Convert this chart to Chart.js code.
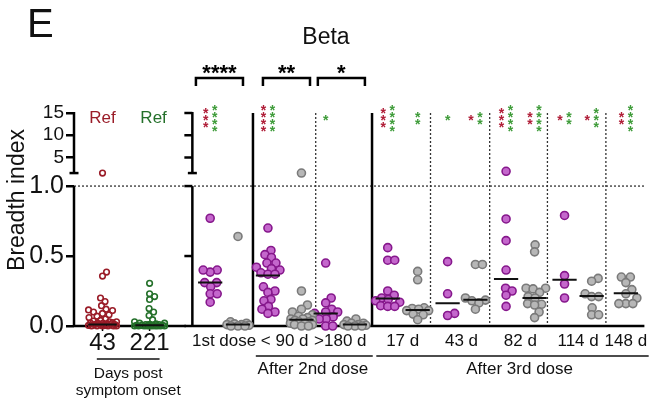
<!DOCTYPE html>
<html>
<head>
<meta charset="utf-8">
<script src="https://cdn.jsdelivr.net/npm/chart.js@4"></script>
<style>
  html, body { margin: 0; padding: 0; background: #fff; }
</style>
</head>
<body>
<canvas id="c" width="650" height="400"></canvas>
<script>
// ── Breadth index vs Beta – scatter panels ──
const FONT = "'Liberation Sans', Arial, sans-serif";

// data
const refDays = ['43', '221'];
const ref43 = [1.5, 0.385, 0.357, 0.2, 0.175, 0.145, 0.12, 0.115, 0.11, 0.1, 0.09, 0.08, 0.07, 0.06, 0.05, 0.04, 0.035, 0.03, 0.03, 0.025, 0.02, 0.02, 0.02, 0.015, 0.01, 0.01, 0.01, 0.01, 0.005, 0.005, 0, 0, 0, 0, 0, 0];
const ref221 = [0.305, 0.23, 0.21, 0.19, 0.125, 0.1, 0.075, 0.045, 0.03, 0.02, 0.02, 0.015, 0.01, 0.01, 0.01, 0.01, 0.005, 0.005, 0.005, 0.005, 0, 0, 0, 0, 0, 0, 0, 0, 0, 0];
const refMedians = [0.01, 0.005];

const vaxTimes = ['1st dose', '< 90 d', '>180 d', '17 d', '43 d', '82 d', '114 d', '148 d'];
const purpleVals = [
  [0.77, 0.40, 0.385, 0.40, 0.31, 0.31, 0.28, 0.23, 0.23, 0.17],
  [0.70, 0.54, 0.51, 0.49, 0.45, 0.45, 0.42, 0.41, 0.40, 0.38, 0.37, 0.37, 0.28, 0.25, 0.24, 0.19, 0.18, 0.14, 0.12, 0.10, 0.09],
  [0.45, 0.20, 0.165, 0.12, 0.10, 0.10, 0.09, 0.065, 0.05, 0.05, 0.0, 0.0],
  [0.56, 0.47, 0.47, 0.25, 0.22, 0.20, 0.19, 0.18, 0.17, 0.145, 0.14, 0.14],
  [0.46, 0.23, 0.09, 0.075],
  [1.9, 0.765, 0.61, 0.40, 0.27, 0.25, 0.22, 0.14],
  [0.79, 0.36, 0.30, 0.20],
  null
];
const grayVals = [
  [0.64, 0.03, 0.02, 0.015, 0.01, 0.01, 0.005, 0, 0, 0],
  [1.5, 0.25, 0.15, 0.12, 0.10, 0.08, 0.07, 0.06, 0.05, 0.05, 0.04, 0.04, 0.03, 0.03, 0.02, 0.02, 0.01, 0.01, 0, 0],
  [0.05, 0.035, 0.02, 0.02, 0.01, 0.01, 0.005, 0, 0, 0],
  [0.39, 0.33, 0.13, 0.125, 0.12, 0.11, 0.11, 0.085, 0.08, 0.045],
  [0.44, 0.44, 0.20, 0.185, 0.18, 0.165, 0.12],
  [0.58, 0.53, 0.27, 0.27, 0.265, 0.24, 0.21, 0.20, 0.16, 0.155, 0.15, 0.10, 0.06],
  [0.34, 0.32, 0.23, 0.21, 0.21, 0.13, 0.08, 0.08],
  [0.35, 0.35, 0.31, 0.26, 0.23, 0.20, 0.16, 0.16, 0.16]
];
const purpleMedians = [0.31, 0.36, 0.09, 0.196, 0.163, 0.335, 0.33, null];
const grayMedians = [0.01, 0.045, 0.01, 0.115, 0.187, 0.20, 0.215, 0.234];

// significance marks: [red stars, green stars]
const purpleStars = [[3, 4], [4, 4], [0, 1], [3, 4], [0, 1], [3, 4], [1, 2], null];
const grayStars = [[0, 0], [0, 0], [0, 0], [0, 2], [1, 2], [2, 4], [1, 3], [2, 4]];
const bracketStars = ['****', '**', '*'];
const yTickVals = [0, 0.5, 1, 5, 10, 15];

// layout (x in slot units, 0..40)
const refX = [2.0, 5.3];
const purpleX = [9.55, 13.6, 17.65, 22.0, 26.2, 30.3, 34.4, null];
const grayX = [11.5, 15.95, 19.7, 24.1, 28.15, 32.3, 36.3, 38.7];
const axis2X = 8.3, leftEnd = 7.85;
const solidSeps = [12.55, 20.9];
const dottedSeps = [16.95, 25.0, 29.15, 33.2, 37.3];
const brackets = [[8.55, 11.85], [13.25, 16.55], [17.1, 20.4]];

const RED = '#9a1c28', GREEN = '#24702a', STAR_RED = '#b01e38', STAR_GREEN = '#3f9c3a';

// broken y axis: 0..1 lower, 1..1.5 gap, 1.5..15 upper
const LOW_F = 0.657, GAP_F = 0.061;
class BrokenScale extends Chart.LinearScale {
  frac(v) {
    if (v <= 1) return v * LOW_F;
    if (v <= 1.5) return LOW_F + (v - 1) / 0.5 * GAP_F;
    return LOW_F + GAP_F + (v - 1.5) / 13.5 * (1 - LOW_F - GAP_F);
  }
  getPixelForValue(v) { return this.bottom - this.frac(v) * (this.bottom - this.top); }
  getValueForPixel(p) {
    const f = (this.bottom - p) / (this.bottom - this.top);
    if (f <= LOW_F) return f / LOW_F;
    if (f <= LOW_F + GAP_F) return 1 + (f - LOW_F) / GAP_F * 0.5;
    return 1.5 + (f - LOW_F - GAP_F) / (1 - LOW_F - GAP_F) * 13.5;
  }
}
BrokenScale.id = 'broken';
BrokenScale.defaults = Chart.LinearScale.defaults;
Chart.register(BrokenScale);

// datasets
const swarmGroups = [];
const datasets = [];
const medianData = [];
function addMedian(cx, m, half) {
  if (m == null) return;
  medianData.push({x: cx - half, y: m}, {x: cx + half, y: m}, {x: cx + half, y: null});
}
datasets.push({type: 'line', data: medianData, borderColor: '#111', borderWidth: 2, pointRadius: 0, spanGaps: false, order: 0, clip: false});

function addGroup(vals, cx, style, diam, maxHalf) {
  swarmGroups.push({ds: datasets.length, vals, cx, diam, maxHalf});
  datasets.push(Object.assign({data: vals.map(v => ({x: cx, y: v})), order: 1, clip: false}, style));
}
const refStyle = c => ({pointRadius: 2.8, borderWidth: 1.6, pointBorderColor: c, pointBackgroundColor: 'rgba(255,255,255,0)'});
const purpleStyle = {pointRadius: 4, borderWidth: 1.6, pointBorderColor: '#86188c', pointBackgroundColor: '#c467cc'};
const grayStyle = {pointRadius: 4, borderWidth: 1.6, pointBorderColor: '#7a7a7a', pointBackgroundColor: '#b7b7b7'};

addGroup(ref43, refX[0], refStyle(RED), 5.4, 14);
addGroup(ref221, refX[1], refStyle(GREEN), 5.4, 15);
addMedian(refX[0], refMedians[0], 1.0);
addMedian(refX[1], refMedians[1], 1.0);
vaxTimes.forEach((t, i) => {
  if (purpleVals[i]) { addGroup(purpleVals[i], purpleX[i], purpleStyle, 7, 12); addMedian(purpleX[i], purpleMedians[i], 0.85); }
  addGroup(grayVals[i], grayX[i], grayStyle, 7, 11);
  addMedian(grayX[i], grayMedians[i], 0.85);
});

// beeswarm offsets in pixels, kept within ±maxHalf (overlap allowed when crowded)
function swarm(pys, diam, maxHalf) {
  const order = pys.map((p, i) => i).sort((a, b) => pys[b] - pys[a]);
  const placed = [], offs = [];
  for (const i of order) {
    let best = null, fallback = 0, bestGap = -1;
    for (let k = 0; ; k++) {
      const o = (k % 2 ? 1 : -1) * Math.ceil(k / 2) * 0.5;
      if (Math.abs(o) > maxHalf) break;
      let md = Infinity;
      placed.forEach(p => { md = Math.min(md, Math.hypot(p.x - o, p.y - pys[i])); });
      if (md >= diam) { best = o; break; }
      if (md > bestGap + 0.01) { bestGap = md; fallback = o; }
    }
    if (best == null) best = fallback;
    placed.push({x: best, y: pys[i]});
    offs[i] = best;
  }
  return offs;
}

const decor = {
  id: 'decor',
  beforeDatasetsDraw(chart) {
    const {ctx, chartArea: a} = chart;
    const xs = chart.scales.x, ys = chart.scales.y;
    const X = v => xs.getPixelForValue(v), Y = v => ys.getPixelForValue(v);
    const line = (x1, y1, x2, y2) => { ctx.beginPath(); ctx.moveTo(x1, y1); ctx.lineTo(x2, y2); ctx.stroke(); };
    ctx.save();
    ctx.strokeStyle = '#333'; ctx.lineWidth = 1.3; ctx.setLineDash([2, 2]);
    line(a.left, Y(1), a.right, Y(1));
    dottedSeps.forEach(u => line(X(u), Y(15), X(u), Y(0)));
    ctx.setLineDash([]);
    ctx.strokeStyle = '#000'; ctx.lineWidth = 2.5;
    solidSeps.forEach(u => line(X(u), Y(15), X(u), Y(0)));
    [a.left, X(axis2X)].forEach((x0, k) => {
      line(x0, Y(15) - 1, x0, Y(1.5));
      line(x0 - 4.5, Y(1.5), x0 + 4.5, Y(1.5));
      line(x0, Y(1), x0, Y(0) + 1);
      if (k === 1) yTickVals.forEach(v => line(x0 - 8, Y(v), x0, Y(v)));
    });
    line(a.left, Y(0), X(leftEnd), Y(0));
    line(X(axis2X), Y(0), a.right, Y(0));
    ctx.lineWidth = 1.5;
    refX.forEach(u => line(X(u), Y(0), X(u), Y(0) + 5));
    ctx.restore();
  },
  afterDraw(chart) {
    const {ctx, chartArea: a} = chart;
    const xs = chart.scales.x, ys = chart.scales.y;
    const X = v => xs.getPixelForValue(v), Y = v => ys.getPixelForValue(v);
    const line = (x1, y1, x2, y2) => { ctx.beginPath(); ctx.moveTo(x1, y1); ctx.lineTo(x2, y2); ctx.stroke(); };
    const text = (s, x, y, size, color, weight) => {
      ctx.font = (weight || '') + ' ' + size + 'px ' + FONT;
      ctx.fillStyle = color || '#111';
      ctx.fillText(s, x, y);
    };
    ctx.save();
    ctx.textAlign = 'left'; ctx.textBaseline = 'alphabetic';
    text('E', 27, 37, 40, '#111');
    ctx.textAlign = 'center';
    text('Beta', 326, 44, 23, '#111');

    // y title
    ctx.save();
    ctx.translate(18, 200); ctx.rotate(-Math.PI / 2);
    ctx.textBaseline = 'middle';
    text('Breadth index', 0, 0, 23, '#111');
    ctx.restore();

    // Ref labels
    ctx.textBaseline = 'middle';
    text('Ref', X(refX[0]), Y(15) + 5, 17, RED);
    text('Ref', X(refX[1]) + 4, Y(15) + 5, 17, GREEN);

    // coloured stars
    ctx.textBaseline = 'alphabetic';
    const yc = Y(15) + 5;
    const starCol = (n, x, color) => {
      for (let i = 0; i < n; i++) text('*', x, yc + (i - (n - 1) / 2) * 7 + 7, 14, color, 'bold');
    };
    const drawStars = (counts, cx) => {
      if (!counts) return;
      const [r, g] = counts;
      const both = r && g;
      starCol(r, X(cx) - (both ? 4.5 : 0), STAR_RED);
      starCol(g, X(cx) + (both ? 4.5 : 0), STAR_GREEN);
    };
    vaxTimes.forEach((t, i) => { drawStars(purpleStars[i], purpleX[i]); drawStars(grayStars[i], grayX[i]); });

    // brackets
    ctx.strokeStyle = '#000'; ctx.lineWidth = 2.5;
    const bt = a.top - 35;
    brackets.forEach(([u1, u2], i) => {
      ctx.beginPath();
      ctx.moveTo(X(u1), bt + 8); ctx.lineTo(X(u1), bt); ctx.lineTo(X(u2), bt); ctx.lineTo(X(u2), bt + 8);
      ctx.stroke();
      text(bracketStars[i], (X(u1) + X(u2)) / 2, bt + 2, 22, '#000', 'bold');
    });

    // x labels
    ctx.textBaseline = 'middle';
    refDays.forEach((d, i) => text(d, X(refX[i]), 343, 24, '#111'));
    vaxTimes.forEach((t, i) => {
      const cx = purpleX[i] == null ? grayX[i] : (purpleX[i] + grayX[i]) / 2;
      text(t, X(cx), 341, 17, '#111');
    });
    ctx.strokeStyle = '#111'; ctx.lineWidth = 1.5;
    line(X(1.6), 359, X(6.0), 359);
    line(X(12.75), 356, X(20.95), 356);
    line(X(21.2), 356, X(40.3), 356);
    text('After 2nd dose', X(16.75), 369, 17, '#111');
    text('After 3rd dose', X(31.25), 369, 17, '#111');
    text('Days post', X(3.8), 374, 15.5, '#111');
    text('symptom onset', X(3.8), 391, 15.5, '#111');
    ctx.restore();
  }
};

const chart = new Chart(document.getElementById('c').getContext('2d'), {
  type: 'scatter',
  data: {datasets},
  options: {
    responsive: false,
    animation: false,
    events: [],
    layout: {padding: {left: 0, top: 113, right: 5, bottom: 74}},
    plugins: {legend: {display: false}, tooltip: {enabled: false}},
    scales: {
      x: {type: 'linear', min: 0, max: 40, display: false},
      y: {
        type: 'broken', min: 0, max: 15,
        afterBuildTicks: s => { s.ticks = yTickVals.map(v => ({value: v})); },
        afterFit: s => { s.width = 74; },
        border: {display: false},
        grid: {drawOnChartArea: false, drawTicks: true, tickLength: 8, color: '#000', lineWidth: 2.5},
        ticks: {
          autoSkip: false, padding: 2, color: '#111',
          font: c => ({family: FONT, size: c.tick && c.tick.value > 1 ? 19 : 25}),
          callback: v => v > 1 ? String(v) : v.toFixed(1)
        }
      }
    }
  },
  plugins: [decor]
});

// spread points sideways (beeswarm) using the scales' pixel mapping
const xs = chart.scales.x, ys = chart.scales.y;
swarmGroups.forEach(g => {
  const cpx = xs.getPixelForValue(g.cx);
  const offs = swarm(g.vals.map(v => ys.getPixelForValue(v)), g.diam, g.maxHalf);
  chart.data.datasets[g.ds].data = g.vals.map((v, i) => ({x: xs.getValueForPixel(cpx + offs[i]), y: v}));
});
chart.update();
</script>
</body>
</html>
